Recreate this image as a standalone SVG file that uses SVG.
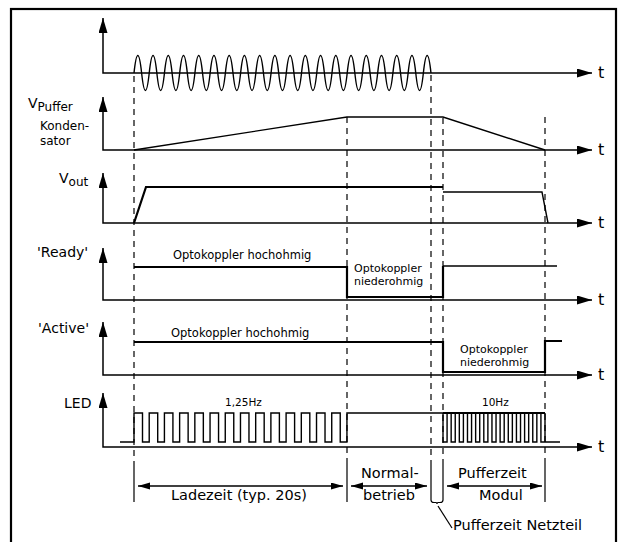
<svg xmlns="http://www.w3.org/2000/svg" width="621" height="542" viewBox="0 0 621 542">
<defs>
<style>
text{font-family:"DejaVu Sans","Liberation Sans",sans-serif;fill:#000}
.axis{fill:none;stroke:#000;stroke-width:1.5;marker-start:url(#ax);marker-end:url(#ax)}
.dash{stroke:#000;stroke-width:1.2;stroke-dasharray:6,5;fill:none}
.solid{stroke:#000;stroke-width:1.2;fill:none}
.sig{fill:none;stroke:#000;stroke-width:2.2;stroke-linejoin:miter}
.thin{fill:none;stroke:#000;stroke-width:1.4}
.lbl{font-size:14px}
.sm{font-size:11.5px}
.sm2{font-size:11px}
.t{font-size:16px}
.big{font-size:14.5px}
.dim{fill:none;stroke:#000;stroke-width:1.3;marker-start:url(#dh);marker-end:url(#dh)}
</style>
<marker id="ax" markerWidth="16" markerHeight="10" refX="15" refY="4.5" orient="auto-start-reverse" markerUnits="userSpaceOnUse"><path d="M0,0 L15,4.5 L0,9 z" fill="#000"/></marker>
<marker id="dh" markerWidth="13" markerHeight="8" refX="12" refY="3.5" orient="auto-start-reverse" markerUnits="userSpaceOnUse"><path d="M0,0 L12,3.5 L0,7 z" fill="#000"/></marker>
</defs>
<rect x="11" y="9" width="605" height="540" fill="#fff" stroke="#000" stroke-width="2.2"/>

<g id="connectors">
<path class="dash" d="M134,76 V463"/>
<path class="dash" d="M347,117 V462"/>
<path class="dash" d="M431,75 V465"/>
<path class="dash" d="M443,118 V465"/>
<path class="dash" d="M545,117 V462"/>
<path class="solid" d="M134,463 V502 M347,462 V502 M431,465 V500 M443,465 V500 M545,462 V502"/>
</g>

<g id="row-sine">
<path class="axis" d="M103,18 V73 H592"/>
<text class="t" x="598" y="78">t</text>
<path class="thin" d="M134,73 q3.8075,-35 7.615,0 t7.615,0 t7.615,0 t7.615,0 t7.615,0 t7.615,0 t7.615,0 t7.615,0 t7.615,0 t7.615,0 t7.615,0 t7.615,0 t7.615,0 t7.615,0 t7.615,0 t7.615,0 t7.615,0 t7.615,0 t7.615,0 t7.615,0 t7.615,0 t7.615,0 t7.615,0 t7.615,0 t7.615,0 t7.615,0 t7.615,0 t7.615,0 t7.615,0 t7.615,0 t7.615,0 t7.615,0 t7.615,0 t7.615,0 t7.615,0 t7.615,0 t7.615,0 t7.615,0 t7.615,0"/>
</g>

<g id="row-vpuffer">
<path class="axis" d="M103,97 V150 H592"/>
<text class="t" x="598" y="155">t</text>
<text class="lbl" x="28" y="108">V<tspan font-size="12" dy="3">Puffer</tspan></text>
<text x="40" y="130" font-size="12">Konden-</text>
<text x="40" y="145" font-size="12">sator</text>
<path class="thin" d="M134,150 L347,117 H443 L545,150" stroke-width="1.3"/>
</g>

<g id="row-vout">
<path class="axis" d="M103,173 V223 H592"/>
<text class="t" x="598" y="228">t</text>
<text class="lbl" x="59" y="183">V<tspan font-size="12" dy="3">out</tspan></text>
<path class="sig" d="M134,223 L146,187 H443"/>
<path class="thin" d="M443,192 H542 L548,223"/>
</g>

<g id="row-ready">
<path class="axis" d="M103,248 V300 H592"/>
<text class="t" x="598" y="305">t</text>
<text class="lbl" x="37" y="257">'Ready'</text>
<path class="sig" d="M134,267 H347 V297 H443 V266"/>
<path class="thin" d="M443,266 H557"/>
<text class="sm" x="173" y="259">Optokoppler hochohmig</text>
<text class="sm2" x="354" y="272">Optokoppler</text>
<text class="sm2" x="354" y="285">niederohmig</text>
</g>

<g id="row-active">
<path class="axis" d="M103,322 V375 H592"/>
<text class="t" x="598" y="380">t</text>
<text class="lbl" x="38" y="333">'Active'</text>
<path class="sig" d="M134,342 H443 V372 H545 V341 H562"/>
<text class="sm" x="171" y="337">Optokoppler hochohmig</text>
<text class="sm2" x="460" y="353">Optokoppler</text>
<text class="sm2" x="460" y="366">niederohmig</text>
</g>

<g id="row-led">
<path class="axis" d="M103,393 V447 H592"/>
<text class="t" x="598" y="452">t</text>
<text class="lbl" x="64" y="408">LED</text>
<path class="thin" stroke-width="1.8" d="M120,442 H134 V413 h8.5 v29 h6.71 v-29 h8.5 v29 h6.71 v-29 h8.5 v29 h6.71 v-29 h8.5 v29 h6.71 v-29 h8.5 v29 h6.71 v-29 h8.5 v29 h6.71 v-29 h8.5 v29 h6.71 v-29 h8.5 v29 h6.71 v-29 h8.5 v29 h6.71 v-29 h8.5 v29 h6.71 v-29 h8.5 v29 h6.71 v-29 h8.5 v29 h6.71 v-29 h8.5 v29 h6.71 v-29 h8.5 v29 h6.71 v-29 H443"/>
<path class="thin" stroke-width="1.3" d="M443,413 v29 h4.08 v-29 h4.08 v29 h4.08 v-29 h4.08 v29 h4.08 v-29 h4.08 v29 h4.08 v-29 h4.08 v29 h4.08 v-29 h4.08 v29 h4.08 v-29 h4.08 v29 h4.08 v-29 h4.08 v29 h4.08 v-29 h4.08 v29 h4.08 v-29 h4.08 v29 h4.08 v-29 h4.08 v29 h4.08 v-29 h4.08 v29 h4.08 v-29 h4.08 v29 h4.08 v-29 v29 h15"/>
<path class="sig" d="M443,413 H545" stroke-width="1.8"/>
<text x="225" y="406" font-size="10.5">1,25Hz</text>
<text x="482" y="406" font-size="10.5">10Hz</text>
</g>

<g id="dimensions">
<path class="dim" d="M138,486 H343"/>
<text class="big" x="171" y="500">Ladezeit (typ. 20s)</text>
<path class="dim" d="M351,486 H427"/>
<text class="big" x="361" y="478">Normal-</text>
<text class="big" x="363" y="500">betrieb</text>
<path class="dim" d="M447,486 H542"/>
<text class="big" x="458" y="478">Pufferzeit</text>
<text class="big" x="479" y="500">Modul</text>
<path class="solid" stroke-width="0.9" d="M431,500 Q431,502.5 434,502.5 H436 Q437,502.5 437,504 Q437,502.5 438,502.5 H440 Q443,502.5 443,500"/>
<path class="solid" stroke-width="0.9" d="M438,506 L452,528"/>
<text class="big" x="453" y="530">Pufferzeit Netzteil</text>
</g>
</svg>
